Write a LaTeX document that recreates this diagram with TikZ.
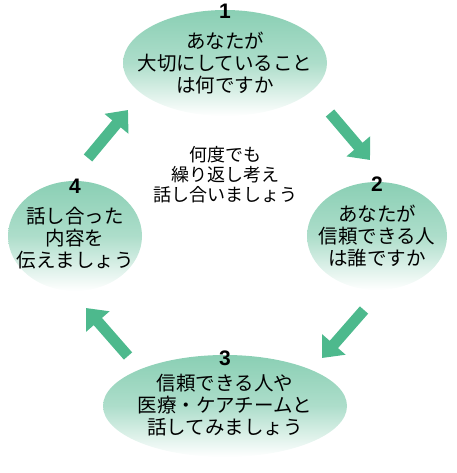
\documentclass[tikz,border=0pt]{standalone}
\usepackage{fontspec}
\setmainfont{Liberation Sans}
\newfontfamily\jpfont{Noto Sans CJK JP}
\usetikzlibrary{arrows.meta,shapes.geometric}
\definecolor{Mint}{HTML}{8ACFB4}
\definecolor{Leaf}{HTML}{4DB98D}

\begin{document}
\begin{tikzpicture}[x=1pt, y=1pt,
    bubble/.style={ellipse, inner sep=0pt, top color=Mint, bottom color=white,
        middle color=Mint!70!white},
    words/.style={align=center, inner sep=0pt, font=\jpfont\fontsize{19.5}{22}\selectfont},
    num/.style={font=\fontsize{21}{21}\selectfont\bfseries, inner sep=0pt},
    flow/.style={-{Triangle[length=18pt,width=30pt]}, line width=11pt, Leaf}]
    \useasboundingbox (0,0) rectangle (456,-473);

    % Step 1
    \node[bubble, minimum width=204pt, minimum height=106pt] (e1) at (225,-63) {};
    \node[words] (t1) at (e1) {あなたが\\大切にしていること\\は何ですか};
    \node[num] (n1) at ([yshift=-1pt]e1.north) {1};

    % Step 2
    \node[bubble, minimum width=140pt, minimum height=108pt] (e2) at (377,-236) {};
    \node[words] (t2) at (e2) {あなたが\\信頼できる人\\は誰ですか};
    \node[num] (n2) at ([yshift=-2pt]e2.north) {2};

    % Step 3
    \node[bubble, minimum width=244pt, minimum height=102pt] (e3) at (225,-406) {};
    \node[words] (t3) at ([yshift=1pt]e3) {信頼できる人や\\医療・ケアチームと\\話してみましょう};
    \node[num] (n3) at ([yshift=-3pt]e3.north) {3};

    % Step 4
    \node[bubble, minimum width=134pt, minimum height=110pt] (e4) at (75,-236) {};
    \node[words] (t4) at ([yshift=-2pt]e4) {話し合った\\内容を\\伝えましょう};
    \node[num] (n4) at ([yshift=-5pt]e4.north) {4};

    % Centre text
    \node[align=center, font=\jpfont\fontsize{18}{20}\selectfont] (mid) at (225,-175)
        {何度でも\\繰り返し考え\\話し合いましょう};

    % Arrow ends
    \coordinate (a1s) at (330,-113);
    \coordinate (a1e) at (370,-160);
    \coordinate (a2s) at (364,-310);
    \coordinate (a2e) at (322,-358);
    \coordinate (a3s) at (128,-356);
    \coordinate (a3e) at (86,-308);
    \coordinate (a4s) at (88,-158);
    \coordinate (a4e) at (128,-110);

    % Cycle arrows
    \draw[flow] (a1s) -- (a1e);
    \draw[flow] (a2s) -- (a2e);
    \draw[flow] (a3s) -- (a3e);
    \draw[flow] (a4s) -- (a4e);
\end{tikzpicture}
\end{document}
